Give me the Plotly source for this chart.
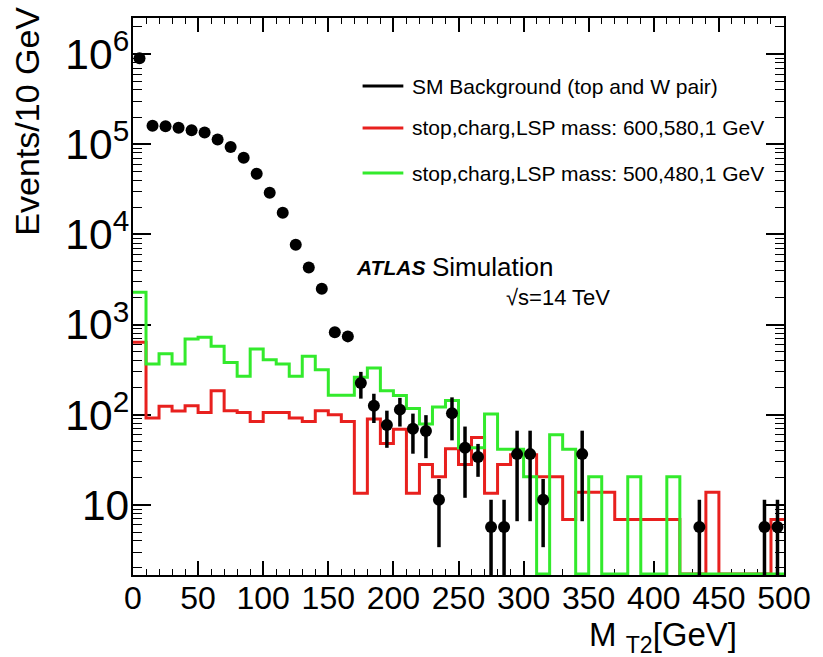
import plotly.graph_objects as go

# ---------------- data ----------------
bin_width = 10
n_bins = 50
bin_edges = [i * bin_width for i in range(n_bins + 1)]
bin_centers = [e + bin_width / 2 for e in bin_edges[:-1]]

sm_background = [
    9.0e5, 1.6e5, 1.58e5, 1.52e5, 1.43e5, 1.35e5, 1.13e5, 9.3e4, 7.1e4, 4.7e4,
    2.9e4, 1.74e4, 7.7e3, 4.3e3, 2.5e3, 820, 740, 225, 126, 77,
    114, 70, 66, 11.4, 104, 43, 34, 5.7, 5.7, 36.6,
    36.6, 11.4, 0, 0, 36.6, 0, 0, 0, 0, 0,
    0, 0, 0, 5.7, 0, 0, 0, 0, 5.7, 5.7,
]
sm_background_err = [
    0, 0, 0, 0, 0, 0, 0, 0, 0, 0,
    0, 0, 0, 0, 0, 80, 80, 74, 45, 34,
    40, 33, 33, 8, 52, 31, 13.5, 5.7, 5.7, 30,
    30, 8, 0, 0, 30, 0, 0, 0, 0, 0,
    0, 0, 0, 5.7, 0, 0, 0, 0, 5.7, 5.7,
]
signal_600_580 = [
    636, 92, 124, 110, 126, 106, 185, 111, 106, 84,
    106, 106, 92, 84, 111, 100, 84, 13.5, 90, 48,
    69, 13.5, 28, 20.6, 42, 28, 56, 13.5, 28, 36,
    36, 20.6, 20.6, 6.9, 13.8, 13.8, 13.8, 6.9, 6.9, 6.9,
    6.9, 6.9, 0, 0, 13.8, 0, 0, 0, 0, 6.9,
]
signal_500_480 = [
    2286, 366, 475, 366, 693, 722, 574, 381, 267, 537,
    408, 366, 267, 445, 316, 165, 165, 260, 330, 185,
    164, 117, 79, 122, 144, 43, 43, 102, 41.5, 41.5,
    20.6, 0, 60, 41.5, 0, 20.6, 0, 0, 20.6, 0,
    0, 20.6, 0, 0, 0, 0, 0, 0, 0, 0,
]

legend_labels = [
    "SM Background (top and W pair)",
    "stop,charg,LSP mass: 600,580,1 GeV",
    "stop,charg,LSP mass: 500,480,1 GeV",
]
x_ticks = list(range(0, 501, 50))

# ---------------- styling ----------------
FONT = "Liberation Sans, Arial, Helvetica, sans-serif"
RED = "#e8201e"
GREEN = "#33ea2c"
BLACK = "#000000"
W, H = 823, 657
ML, MR, MT, MB = 133, 35, 18, 82
PW, PH = W - ML - MR, H - MT - MB
Y_LOG_MIN, Y_LOG_MAX = 0.223, 6.40
floor_val = 10 ** (Y_LOG_MIN + 0.012)


def px(x):
    return (x - ML) / PW


def py(y):
    return (H - MB - y) / PH


def step_xy(values):
    ys = [v if v > 0 else floor_val for v in values]
    return bin_edges[:], ys + [ys[-1]]


fig = go.Figure()

for vals, col in [(signal_600_580, RED), (signal_500_480, GREEN)]:
    sx, sy = step_xy(vals)
    fig.add_trace(go.Scatter(
        x=sx, y=sy, mode="lines", line=dict(color=col, width=3, shape="hv"),
        showlegend=False, hoverinfo="skip",
    ))

bx = [c for c, v in zip(bin_centers, sm_background) if v > 0]
by = [v for v in sm_background if v > 0]
be = [e for e, v in zip(sm_background_err, sm_background) if v > 0]
fig.add_trace(go.Scatter(
    x=bx, y=by, mode="markers",
    marker=dict(color=BLACK, size=12, symbol="circle"),
    error_y=dict(type="data", array=be, symmetric=True, color=BLACK,
                 thickness=3.5, width=0),
    showlegend=False,
))

axis_common = dict(
    showline=True, linecolor=BLACK, linewidth=2, mirror="allticks",
    ticks="inside", tickcolor=BLACK, showgrid=False, zeroline=False,
    layer="below traces",
)

fig.update_xaxes(
    range=[0, 500], tickmode="array", tickvals=x_ticks,
    ticklen=14, tickwidth=1.5, ticklabelstandoff=-6,
    tickfont=dict(family=FONT, size=32, color=BLACK),
    minor=dict(dtick=10, ticks="inside", ticklen=6, tickwidth=1.2, tickcolor=BLACK),
    **axis_common,
)
fig.update_yaxes(
    type="log", range=[Y_LOG_MIN, Y_LOG_MAX], dtick=1, exponentformat="power",
    ticklen=18, tickwidth=1.5, ticklabelstandoff=-5,
    tickfont=dict(family=FONT, size=34, color=BLACK),
    minor=dict(dtick="D1", ticks="inside", ticklen=9, tickwidth=1.2, tickcolor=BLACK),
    **axis_common,
)

annotations = [
    dict(text="Events/10 GeV", x=px(26), y=py(121), xref="paper", yref="paper",
         textangle=-90, showarrow=False, xanchor="center", yanchor="middle",
         font=dict(family=FONT, size=34, color=BLACK)),
    dict(text="M <sub>T2</sub>[GeV]", x=px(743), y=py(637), xref="paper", yref="paper",
         showarrow=False, xanchor="right", yanchor="middle",
         font=dict(family=FONT, size=33, color=BLACK)),
    dict(text="<b><i>ATLAS</i></b>", x=px(429), y=py(267), xref="paper", yref="paper",
         showarrow=False, xanchor="right", yanchor="middle",
         font=dict(family=FONT, size=21, color=BLACK)),
    dict(text="Simulation", x=px(432), y=py(267), xref="paper", yref="paper",
         showarrow=False, xanchor="left", yanchor="middle",
         font=dict(family=FONT, size=26, color=BLACK)),
    dict(text="√s=14 TeV", x=px(561), y=py(297), xref="paper", yref="paper",
         showarrow=False, xanchor="center", yanchor="middle",
         font=dict(family=FONT, size=22, color=BLACK)),
]
shapes = []
for label, col, ly in zip(legend_labels, [BLACK, RED, GREEN], [86, 128, 173]):
    shapes.append(dict(type="line", xref="paper", yref="paper",
                       x0=px(364), x1=px(405), y0=py(ly), y1=py(ly),
                       line=dict(color=col, width=3)))
    annotations.append(dict(text=label, x=px(412), y=py(ly), xref="paper", yref="paper",
                            showarrow=False, xanchor="left", yanchor="middle",
                            font=dict(family=FONT, size=21, color=BLACK)))

fig.update_layout(
    width=W, height=H,
    margin=dict(l=ML, r=MR, t=MT, b=MB),
    paper_bgcolor="white", plot_bgcolor="white",
    showlegend=False,
    annotations=annotations, shapes=shapes,
    font=dict(family=FONT, color=BLACK),
)

fig.write_html("out.html")
